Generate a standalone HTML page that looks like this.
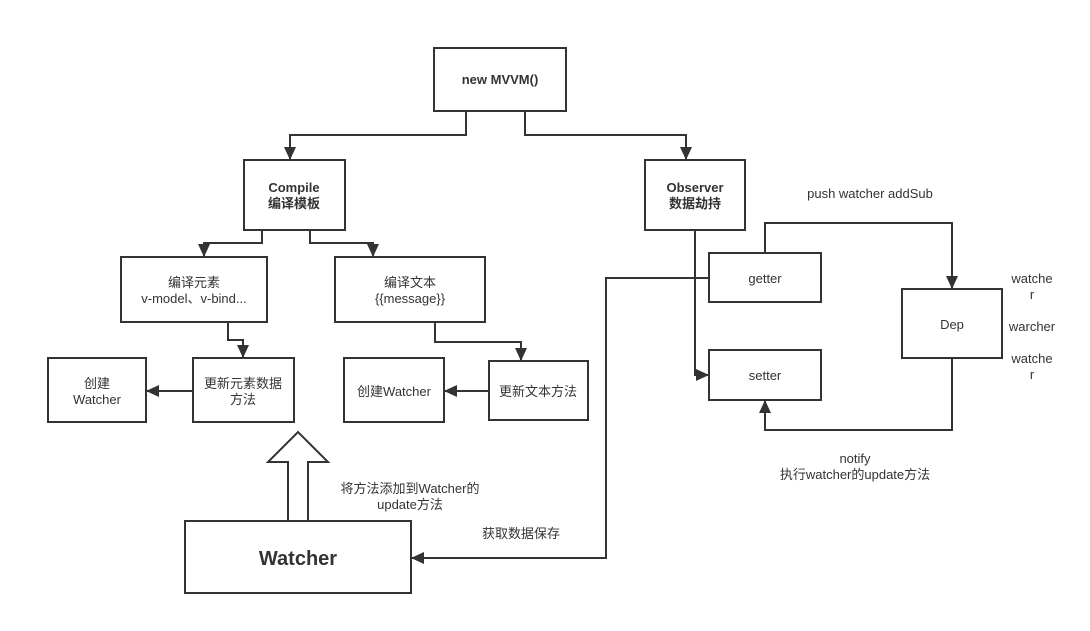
<!DOCTYPE html>
<html><head><meta charset="utf-8"><style>
html,body{margin:0;padding:0;background:#fff;}
svg text{font-family:"Liberation Sans","Noto Sans CJK SC",sans-serif;fill:#333;font-size:13px;text-anchor:middle;}
</style></head><body>
<svg width="1090" height="626" viewBox="0 0 1090 626" xmlns="http://www.w3.org/2000/svg">
<defs>
<marker id="a" markerWidth="13" markerHeight="12" refX="12" refY="6" orient="auto" markerUnits="userSpaceOnUse">
<path d="M0,0 L13,6 L0,12 z" fill="#333"/></marker>
</defs>
<g fill="none" stroke="#333" stroke-width="2">
<rect x="434" y="48" width="132" height="63"/>
<rect x="244" y="160" width="101" height="70"/>
<rect x="645" y="160" width="100" height="70"/>
<rect x="121" y="257" width="146" height="65"/>
<rect x="335" y="257" width="150" height="65"/>
<rect x="48" y="358" width="98" height="64"/>
<rect x="193" y="358" width="101" height="64"/>
<rect x="344" y="358" width="100" height="64"/>
<rect x="489" y="361" width="99" height="59"/>
<rect x="185" y="521" width="226" height="72"/>
<rect x="709" y="253" width="112" height="49"/>
<rect x="709" y="350" width="112" height="50"/>
<rect x="902" y="289" width="100" height="69"/>
<polyline points="466,111 466,135 290,135 290,159" marker-end="url(#a)"/>
<polyline points="525,111 525,135 686,135 686,159" marker-end="url(#a)"/>
<polyline points="262,230 262,243 204,243 204,256" marker-end="url(#a)"/>
<polyline points="310,230 310,243 373,243 373,256" marker-end="url(#a)"/>
<polyline points="228,322 228,340 243,340 243,357" marker-end="url(#a)"/>
<polyline points="435,322 435,342 521,342 521,360" marker-end="url(#a)"/>
<polyline points="193,391 147,391" marker-end="url(#a)"/>
<polyline points="489,391 445,391" marker-end="url(#a)"/>
<polyline points="695,230 695,375 708,375" marker-end="url(#a)"/>
<polyline points="709,278 606,278 606,558 412,558" marker-end="url(#a)"/>
<polyline points="765,253 765,223 952,223 952,288" marker-end="url(#a)"/>
<polyline points="952,358 952,430 765,430 765,401" marker-end="url(#a)"/>
<path d="M288,520 L288,462 L268,462 L298,432 L328,462 L308,462 L308,520" fill="#fff"/>
</g>
<text x="500" y="84" font-weight="bold">new MVVM()</text>
<text x="294" y="192" font-weight="bold">Compile</text>
<text x="294" y="208" font-weight="bold">编译模板</text>
<text x="695" y="192" font-weight="bold">Observer</text>
<text x="695" y="208" font-weight="bold">数据劫持</text>
<text x="194" y="287">编译元素</text>
<text x="194" y="303">v-model、v-bind...</text>
<text x="410" y="287">编译文本</text>
<text x="410" y="303">{{message}}</text>
<text x="97" y="388">创建</text>
<text x="97" y="404">Watcher</text>
<text x="243" y="388">更新元素数据</text>
<text x="243" y="404">方法</text>
<text x="394" y="396">创建Watcher</text>
<text x="538" y="396">更新文本方法</text>
<text x="298" y="565" font-weight="bold" style="font-size:20px">Watcher</text>
<text x="410" y="493">将方法添加到Watcher的</text>
<text x="410" y="509">update方法</text>
<text x="521" y="538">获取数据保存</text>
<text x="765" y="283">getter</text>
<text x="765" y="380">setter</text>
<text x="952" y="329">Dep</text>
<text x="870" y="198">push watcher addSub</text>
<text x="1032" y="283">watche</text>
<text x="1032" y="299">r</text>
<text x="1032" y="331">warcher</text>
<text x="1032" y="363">watche</text>
<text x="1032" y="379">r</text>
<text x="855" y="463">notify</text>
<text x="855" y="479">执行watcher的update方法</text>
</svg>
</body></html>
